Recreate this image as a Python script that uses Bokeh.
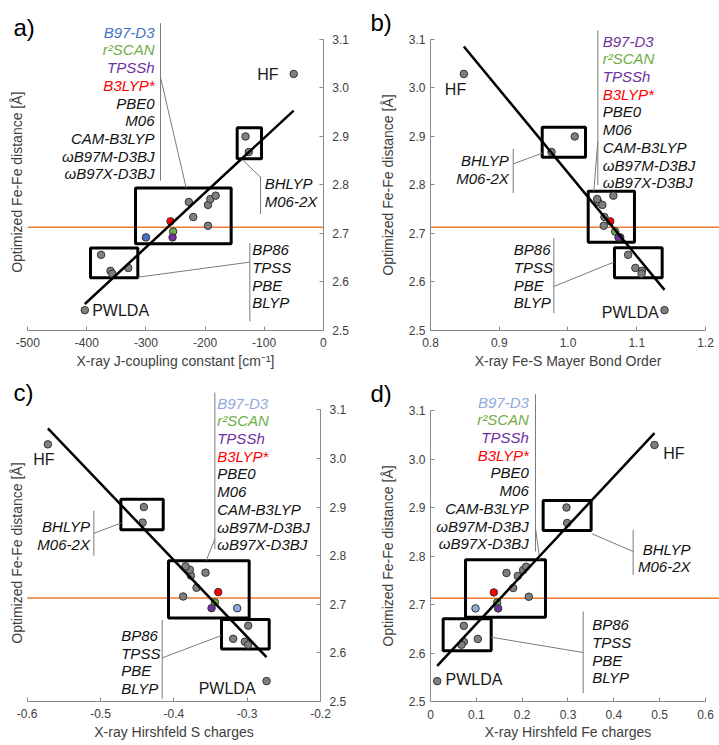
import numpy as np
from bokeh.plotting import figure
from bokeh.layouts import column, row
from bokeh.models import Range1d, FixedTicker, NumeralTickFormatter, Label, ColumnDataSource
from bokeh.core.properties import value
from bokeh.embed import file_html
from bokeh.resources import INLINE

# ---------------- data ----------------
# Optimized Fe-Fe distance [Å] for each functional (same for all four panels)
# order: HF, PWLDA, BHLYP/M06-2X pair, BP86/TPSS/PBE/BLYP group,
#        six grey members of the central group, then B97-D3, r2SCAN, B3LYP*, TPSSh
fe_fe = [3.029, 2.542, 2.900, 2.868, 2.656, 2.629, 2.623, 2.617,
         2.765, 2.734, 2.716, 2.759, 2.771, 2.778, 2.692, 2.704, 2.725, 2.692]
j_coupling = [-50, -403.5, -131.5, -126, -376, -330, -360, -357,
              -227.5, -220, -195, -195, -191, -182, -300, -254, -258.5, -255]
mayer_bo = [0.8485, 1.1404, 1.0099, 0.976, 1.0875, 1.098, 1.1075, 1.107,
            1.044, 1.053, 1.052, 1.050, 1.0424, 1.066, 1.076, 1.0687, 1.0615, 1.0735]
hirsh_s = [-0.5718, -0.2736, -0.4409, -0.4427, -0.2986, -0.3191, -0.3032, -0.2986,
           -0.3568, -0.3691, -0.3873, -0.3768, -0.3782, -0.3841, -0.3136, -0.3441, -0.3395, -0.3486]
hirsh_fe = [0.4887, 0.0146, 0.2967, 0.2982, 0.0727, 0.1033, 0.0727, 0.0676,
            0.1658, 0.1804, 0.2145, 0.1905, 0.2022, 0.2087, 0.0982, 0.1455, 0.1382, 0.1476]
point_group = ["grey"] * 14 + ["B97-D3", "r2SCAN", "B3LYP*", "TPSSh"]
xray_fe_fe = 2.713  # experimental (X-ray) Fe-Fe distance

central_names = ["B97-D3", "r²SCAN", "TPSSh", "B3LYP*", "PBE0", "M06",
                 "CAM-B3LYP", "ωB97M-D3BJ", "ωB97X-D3BJ"]
hybrid_names = ["BHLYP", "M06-2X"]
gga_names = ["BP86", "TPSS", "PBE", "BLYP"]

y_ticks = [2.5, 2.6, 2.7, 2.8, 2.9, 3.0, 3.1]
x_ticks_a = [-500, -400, -300, -200, -100, 0]
x_ticks_b = [0.8, 0.9, 1.0, 1.1, 1.2]
x_ticks_c = [-0.6, -0.5, -0.4, -0.3, -0.2]
x_ticks_d = [0.0, 0.1, 0.2, 0.3, 0.4, 0.5, 0.6]

y_title = "Optimized Fe-Fe distance [Å]"

# ---------------- styling ----------------
FONT = "Liberation Sans"
GREY = "#7f7f7f"
BLUE = "#4472C4"
LIGHT_BLUE = "#8FAADC"
GREEN = "#70AD47"
PURPLE = "#7030A0"
RED = "#FF0000"
ORANGE = "#ED7D31"
LINE_STEP = 17.7


def group_colors(b97):
    return [b97, GREEN, PURPLE, RED] + ["#111111"] * 5


# Each panel's plotting frame covers the whole panel; the axes are drawn at
# fixed data locations inside it (y axis at x = yloc, x axis at y = 2.5).
panels = [
    dict(letter="a)", x=j_coupling, w=360, h=372, yside="right", yloc=0,
         xr=(-546.2, 63.1), yr=(2.4134, 3.1804), xb=(-500, 0), orange=(-500, 0),
         xticks=x_ticks_a, fmt="0",
         xlabel="X-ray J-coupling constant [cm⁻¹]", b97=BLUE,
         letter_pos=(-524.2, 3.1254), ytitle_pos=(-517.9, 2.8058),
         central=(-285.5, 3.115, "right"), hybrid=(-98.9, 2.8025, "left"), gga=(-120.2, 2.6664, "left"),
         hf=(-75.7, 3.028, "right"), pwlda=(-391, 2.541, "left"),
         boxes=[(-317.7, -155.8, 2.679, 2.794), (-393.9, -313.8, 2.609, 2.670), (-145.6, -104.4, 2.854, 2.918)],
         segs=[(-275.4, 3.1336, -275.4, 2.809), (-106.1, 2.8175, -106.1, 2.7406), (-124.2, 2.680, -124.2, 2.519),
               (-275.4, 3.022, -231.9, 2.794), (-106.1, 2.816, -137.1, 2.8526), (-124.2, 2.641, -313.1, 2.610)]),
    dict(letter="b)", x=mayer_bo, w=359, h=372, yside="left", yloc=0.8,
         xr=(0.69818, 1.2204), yr=(2.4134, 3.1804), xb=(0.8, 1.2), orange=(0.8, 1.2204),
         xticks=x_ticks_b, fmt="0.0",
         xlabel="X-ray Fe-S Mayer Bond Order", b97=PURPLE,
         letter_pos=(0.7127, 3.1357), ytitle_pos=None,
         central=(1.0506, 3.0965, "left"), hybrid=(0.9139, 2.8505, "right"), gga=(0.9212, 2.6664, "left"),
         hf=(0.8364, 2.997, "center"), pwlda=(1.132, 2.538, "right"),
         boxes=[(0.9625, 1.0255, 2.857, 2.919), (1.0294, 1.0967, 2.682, 2.787), (1.0676, 1.137, 2.609, 2.6705)],
         segs=[(1.0434, 3.1186, 1.0434, 2.80), (0.9203, 2.8746, 0.9203, 2.783), (0.9794, 2.691, 0.9794, 2.5357),
               (1.0434, 2.89, 1.0376, 2.787), (0.9203, 2.8436, 0.9625, 2.8656), (0.9794, 2.5907, 1.0667, 2.6409)]),
    dict(letter="c)", x=hirsh_s, w=360, h=373, yside="right", yloc=-0.2,
         xr=(-0.6364, -0.1455), yr=(2.40948, 3.1768), xb=(-0.6, -0.2), orange=(-0.6, -0.2),
         xticks=x_ticks_c, fmt="0.0",
         xlabel="X-ray Hirshfeld S charges", b97=LIGHT_BLUE,
         letter_pos=(-0.6187, 3.1357), ytitle_pos=(-0.6136, 2.8053),
         central=(-0.3409, 3.1137, "left"), hybrid=(-0.5145, 2.8603, "right"), gga=(-0.4718, 2.6356, "left"),
         hf=(-0.5773, 2.9986, "center"), pwlda=(-0.2886, 2.526, "right"),
         boxes=[(-0.4723, -0.4145, 2.8534, 2.9158), (-0.4073, -0.2973, 2.6719, 2.7897), (-0.335, -0.27, 2.6082, 2.6685)],
         segs=[(-0.3441, 3.1356, -0.3441, 2.8137), (-0.5091, 2.8925, -0.5091, 2.80), (-0.4159, 2.6678, -0.4159, 2.5055),
               (-0.3441, 2.8342, -0.3559, 2.7897), (-0.5091, 2.8459, -0.4718, 2.8671), (-0.4159, 2.5897, -0.3355, 2.6356)]),
    dict(letter="d)", x=hirsh_fe, w=359, h=373, yside="left", yloc=0.0,
         xr=(-0.15274, 0.6306), yr=(2.40928, 3.1784), xb=(0.0, 0.6), orange=(0.0, 0.6306),
         xticks=x_ticks_d, fmt="0.[0]",
         xlabel="X-ray Hirshfeld Fe charges", b97=LIGHT_BLUE,
         letter_pos=(-0.1309, 3.1357), ytitle_pos=None,
         central=(0.2145, 3.1172, "right"), hybrid=(0.5673, 2.8141, "right"), gga=(0.3527, 2.6581, "left"),
         hf=(0.5076, 3.012, "left"), pwlda=(0.0327, 2.5447, "left"),
         boxes=[(0.2458, 0.3505, 2.8526, 2.9144), (0.0764, 0.2509, 2.6739, 2.7921), (0.0276, 0.1324, 2.6045, 2.6704)],
         segs=[(0.2291, 3.1337, 0.2291, 2.8093), (0.4422, 2.854, 0.4422, 2.7612), (0.3331, 2.6856, 0.3331, 2.5172),
               (0.2291, 2.8574, 0.2385, 2.7921), (0.4422, 2.8093, 0.3527, 2.8457), (0.3331, 2.601, 0.1324, 2.6326)]),
]


def add_group(p, names, colors, anchor):
    x, y, align = anchor
    n = len(names)
    src = ColumnDataSource(dict(x=[x] * n, y=[y] * n, text=names, color=colors,
                                yo=[i * LINE_STEP for i in range(n)]))
    p.text(x="x", y="y", text="text", text_color="color", y_offset="yo", source=src,
           text_font=value(FONT), text_font_style="italic", text_font_size=value("15px"),
           text_align=align, text_baseline="middle")


def make_panel(cfg):
    p = figure(width=cfg["w"], height=cfg["h"],
               x_range=Range1d(*cfg["xr"]), y_range=Range1d(*cfg["yr"]),
               y_axis_location=cfg["yside"], output_backend="svg", toolbar_location=None,
               min_border_left=0, min_border_right=0, min_border_top=0, min_border_bottom=0)
    p.outline_line_color = None
    p.grid.visible = False
    p.background_fill_color = "white"
    p.border_fill_color = "white"

    xa, ya = p.xaxis[0], p.yaxis[0]
    xa.bounds = cfg["xb"]
    ya.bounds = (2.5, 3.1)
    xa.fixed_location = 2.5
    ya.fixed_location = cfg["yloc"]
    xa.ticker = FixedTicker(ticks=cfg["xticks"], minor_ticks=[])
    ya.ticker = FixedTicker(ticks=y_ticks, minor_ticks=[])
    xa.formatter = NumeralTickFormatter(format=cfg["fmt"])
    ya.formatter = NumeralTickFormatter(format="0.0")
    for ax in (xa, ya):
        ax.axis_line_color = "#8a8a8a"
        ax.major_tick_line_color = "#8a8a8a"
        ax.major_tick_in = 4
        ax.major_tick_out = 0
        ax.minor_tick_line_color = None
        ax.major_label_text_font = FONT
        ax.major_label_text_font_size = "12px"
        ax.major_label_text_color = "#404040"
        ax.axis_label_text_font = FONT
        ax.axis_label_text_font_style = "normal"
        ax.axis_label_text_font_size = "14px"
        ax.axis_label_text_color = "#404040"
    xa.major_label_standoff = 8
    xa.axis_label_standoff = 2
    xa.axis_label = cfg["xlabel"]
    if cfg["yside"] == "right":
        ya.major_label_standoff = 9
    else:
        ya.major_label_standoff = 5
        ya.axis_label_standoff = 10
        ya.axis_label = y_title

    x = np.array(cfg["x"], dtype=float)
    y = np.array(fe_fe, dtype=float)

    # experimental reference distance
    p.line(list(cfg["orange"]), [xray_fe_fe, xray_fe_fe], line_color=ORANGE, line_width=1.6)

    # group boxes
    bl, br, bb, bt = zip(*cfg["boxes"])
    p.quad(left=list(bl), right=list(br), bottom=list(bb), top=list(bt),
           fill_color=None, line_color="black", line_width=3)

    # bracket lines and leaders
    x0, y0, x1, y1 = zip(*cfg["segs"])
    p.segment(x0=list(x0), y0=list(y0), x1=list(x1), y1=list(y1), line_color="#7a7a7a", line_width=1)

    # points
    cmap = {"grey": GREY, "B97-D3": cfg["b97"], "r2SCAN": GREEN, "B3LYP*": RED, "TPSSh": PURPLE}
    colors = [cmap[g] for g in point_group]
    p.scatter(x, y, size=7.5, fill_color=colors, line_color="#333333", line_width=1)

    # linear trend line over the data range
    k, b = np.polyfit(x, y, 1)
    xl = np.array([x.min(), x.max()])
    p.line(xl, k * xl + b, line_color="black", line_width=2.5)

    # labels
    add_group(p, central_names, group_colors(cfg["b97"]), cfg["central"])
    add_group(p, hybrid_names, ["#111111"] * 2, cfg["hybrid"])
    add_group(p, gga_names, ["#111111"] * 4, cfg["gga"])
    for name, key in (("HF", "hf"), ("PWLDA", "pwlda")):
        hx, hy, al = cfg[key]
        p.text(x=[hx], y=[hy], text=[name], text_font=value(FONT), text_font_size=value("16px"),
               text_color="#1a1a1a", text_align=al, text_baseline="middle")

    lx, ly = cfg["letter_pos"]
    p.add_layout(Label(x=lx, y=ly, text=cfg["letter"], text_font=FONT, text_font_size="24px",
                       text_color="#000000", text_align="left", text_baseline="middle"))
    if cfg["ytitle_pos"] is not None:
        tx, ty = cfg["ytitle_pos"]
        p.add_layout(Label(x=tx, y=ty, text=y_title, angle=np.pi / 2, text_font=FONT,
                           text_font_size="14px", text_color="#404040",
                           text_align="center", text_baseline="middle"))
    return p


figs = [make_panel(c) for c in panels]
layout = column(row(figs[0], figs[1]), row(figs[2], figs[3]))

open("out.html", "w").write(file_html(layout, INLINE))
